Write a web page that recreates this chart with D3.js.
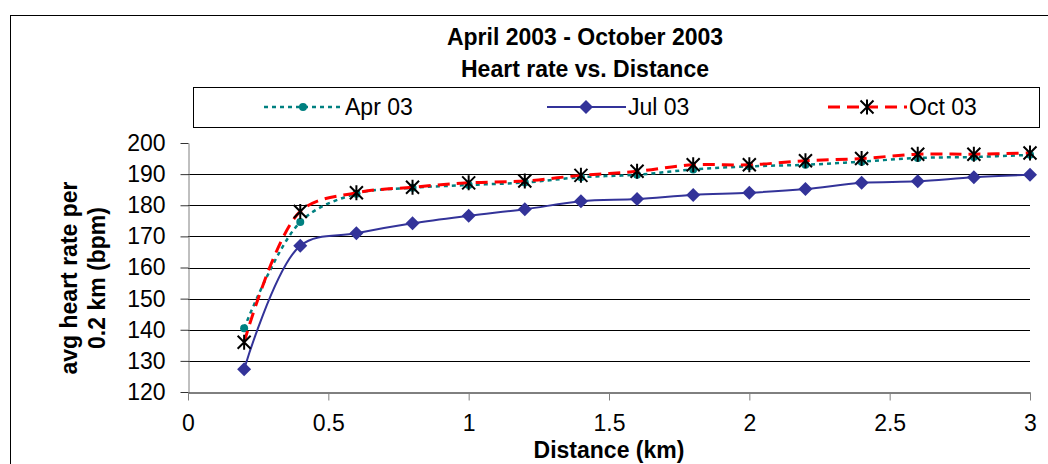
<html>
<head>
<script src="https://d3js.org/d3.v7.min.js"></script>
<style>
  body { margin: 0; background: #fff; }
  text { font-family: Arial, "Liberation Sans", sans-serif; }
</style>
</head>
<body>
<script>
  // data
  let distances = [0.2, 0.4, 0.6, 0.8, 1.0, 1.2, 1.4, 1.6, 1.8, 2.0, 2.2, 2.4, 2.6, 2.8, 3.0];
  let apr03 = [140.5, 174.6, 183.7, 185.6, 186.5, 187.3, 189, 189.8, 191.5, 192.5, 193, 194, 195.2, 195.5, 196.2];
  let jul03 = [127.3, 167, 171, 174.2, 176.6, 178.7, 181.3, 182, 183.3, 184, 185.2, 187.2, 187.7, 189, 189.8];
  let oct03 = [136, 178, 184, 185.8, 187.2, 187.8, 189.6, 190.9, 193, 193, 194.3, 195, 196.4, 196.4, 196.8];
  let seriesNames = ["Apr 03", "Jul 03", "Oct 03"];
  let xTicks = [0, 0.5, 1, 1.5, 2, 2.5, 3];
  let yTicks = [120, 130, 140, 150, 160, 170, 180, 190, 200];

  let width = 1048, height = 464;
  let svg = d3.select("body").append("svg")
      .attr("width", width)
      .attr("height", height);

  // outer chart border (runs off the right and bottom edges)
  svg.append("rect")
      .attr("x", 10.5).attr("y", 15.5)
      .attr("width", 1100).attr("height", 500)
      .attr("fill", "none").attr("stroke", "black");

  let x = d3.scaleLinear().domain([0, 3]).range([188, 1030]);
  let y = d3.scaleLinear().domain([120, 200]).range([392, 143]);

  // gridlines (no line at the top value)
  svg.append("g").selectAll("line")
      .data(yTicks.filter(t => t > 120 && t < 200))
      .join("line")
      .attr("x1", x(0)).attr("x2", x(3))
      .attr("y1", d => Math.round(y(d)) + 0.5).attr("y2", d => Math.round(y(d)) + 0.5)
      .attr("stroke", "black");

  // y axis
  let yAxis = svg.append("g")
      .attr("transform", `translate(${x(0) + 0.5},0)`)
      .call(d3.axisLeft(y).tickValues(yTicks).tickSize(8).tickPadding(15).tickSizeOuter(0));
  yAxis.select(".domain").attr("stroke", "#808080");
  yAxis.selectAll(".tick line").attr("stroke", "#333");
  yAxis.selectAll("text").attr("font-size", 23).attr("fill", "black")
      .attr("font-family", "Arial, 'Liberation Sans', sans-serif");

  // x axis
  let xAxis = svg.append("g")
      .attr("transform", `translate(0,${Math.round(y(120)) + 0.5})`)
      .call(d3.axisBottom(x).tickValues(xTicks).tickSize(8).tickPadding(14).tickSizeOuter(0)
        .tickFormat(d3.format("")));
  xAxis.select(".domain").attr("stroke", "black");
  xAxis.selectAll(".tick line").attr("stroke", "#808080");
  xAxis.selectAll("text").attr("font-size", 23).attr("fill", "black")
      .attr("font-family", "Arial, 'Liberation Sans', sans-serif");

  // titles
  svg.append("text").attr("x", 585).attr("y", 45).attr("text-anchor", "middle")
      .attr("font-size", 23).attr("font-weight", "bold").text("April 2003 - October 2003");
  svg.append("text").attr("x", 585).attr("y", 77).attr("text-anchor", "middle")
      .attr("font-size", 23).attr("font-weight", "bold").text("Heart rate vs. Distance");
  svg.append("text").attr("x", 609).attr("y", 458).attr("text-anchor", "middle")
      .attr("font-size", 23).attr("font-weight", "bold").text("Distance (km)");
  let yLabel = svg.append("text")
      .attr("transform", "translate(77,278) rotate(-90)")
      .attr("text-anchor", "middle").attr("font-size", 23).attr("font-weight", "bold");
  yLabel.append("tspan").attr("x", 0).attr("y", 0).text("avg heart rate per");
  yLabel.append("tspan").attr("x", 0).attr("y", 28).text("0.2 km (bpm)");

  let line = d3.line()
      .x(d => x(d.x))
      .y(d => y(d.y))
      .curve(d3.curveCatmullRom.alpha(0.5));

  function toPoints(values) {
    return values.map((v, i) => ({x: distances[i], y: v}));
  }

  let styles = [
    {color: "#008080", width: 2.5, dash: "4,4", marker: "circle"},
    {color: "#333399", width: 2, dash: null, marker: "diamond"},
    {color: "#ff0000", width: 3, dash: "12,7", marker: "star"}
  ];
  let allSeries = [apr03, jul03, oct03];

  function drawMarker(g, type, cx, cy) {
    if (type == "circle") {
      g.append("circle").attr("cx", cx).attr("cy", cy).attr("r", 4).attr("fill", "#008080");
    } else if (type == "diamond") {
      let s = 7;
      g.append("path")
        .attr("d", `M${cx},${cy - s}L${cx + s},${cy}L${cx},${cy + s}L${cx - s},${cy}Z`)
        .attr("fill", "#333399");
    } else {
      let s = 6.5;
      g.append("path")
        .attr("d", `M${cx - s},${cy - s}L${cx + s},${cy + s}M${cx - s},${cy + s}L${cx + s},${cy - s}M${cx},${cy - s - 1}L${cx},${cy + s + 1}`)
        .attr("stroke", "black").attr("stroke-width", 2).attr("fill", "none");
    }
  }

  allSeries.forEach((values, k) => {
    let st = styles[k];
    let g = svg.append("g");
    g.append("path")
      .datum(toPoints(values))
      .attr("d", line)
      .attr("fill", "none")
      .attr("stroke", st.color)
      .attr("stroke-width", st.width)
      .attr("stroke-dasharray", st.dash);
    toPoints(values).forEach(p => drawMarker(g, st.marker, x(p.x), y(p.y)));
  });

  // legend
  svg.append("rect")
      .attr("x", 193.5).attr("y", 87.5).attr("width", 846).attr("height", 40)
      .attr("fill", "white").attr("stroke", "black");
  let legendX = [264, 547, 828];
  seriesNames.forEach((name, k) => {
    let st = styles[k];
    let lx = legendX[k];
    let g = svg.append("g");
    g.append("line")
      .attr("x1", lx).attr("x2", lx + 79).attr("y1", 107).attr("y2", 107)
      .attr("stroke", st.color).attr("stroke-width", st.width)
      .attr("stroke-dasharray", st.dash);
    drawMarker(g, st.marker, lx + 39, 107);
    g.append("text").attr("x", lx + 81).attr("y", 115)
      .attr("font-size", 23).text(name);
  });
</script>
</body>
</html>
